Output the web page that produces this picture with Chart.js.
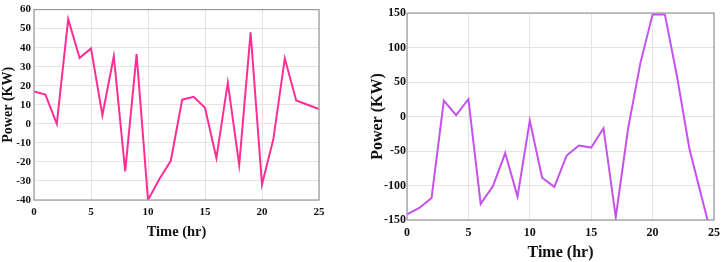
<!DOCTYPE html>
<html>
<head>
<meta charset="utf-8">
<script src="https://cdn.jsdelivr.net/npm/chart.js@4.4.0/dist/chart.umd.min.js"></script>
<style>
  html, body { margin: 0; padding: 0; background: #fff; }
  #wrap { position: relative; width: 726px; height: 262px; }
  .box { position: absolute; top: 0; width: 363px; height: 262px; }
</style>
</head>
<body>
<div id="wrap">
  <div class="box" style="left:0"><canvas id="leftChart"></canvas></div>
  <div class="box" style="left:363px"><canvas id="rightChart"></canvas></div>
</div>
<script>
var hours = [0,1,2,3,4,5,6,7,8,9,10,11,12,13,14,15,16,17,18,19,20,21,22,23,24,25];
var powerLeft = [17,15.4,0,55,34.6,39.6,4.6,35.5,-25,36.6,-40,-29,-19.4,12.7,14.2,8.5,-18,21.6,-21.6,48,-31.9,-7.9,34.4,12.3,10,7.7];
var powerRight = [-142,-132.5,-118,23,2,25,-126.7,-100.8,-53,-116,-6,-88.7,-102,-56.5,-42,-45,-17,-146,-18,77,148,148,57,-47,-117,-187];
var xTicks = [0,5,10,15,20,25];
var leftYTicks = [-40,-30,-20,-10,0,10,20,30,40,50,60];
var rightYTicks = [-150,-100,-50,0,50,100,150];

var serif = "'Liberation Serif', 'DejaVu Serif', serif";

// grey box round the plot area, like the matlab figure
var framePlugin = {
  id: 'frame',
  afterDraw: function(chart) {
    var a = chart.chartArea, c = chart.ctx;
    c.save();
    c.strokeStyle = '#9a9a9a';
    c.lineWidth = 1.2;
    c.strokeRect(a.left, a.top, a.right - a.left, a.bottom - a.top);
    c.restore();
  }
};

function makeChart(id, vals, color, yTicks, s) {
  var pts = hours.map(function(h, i) { return { x: h, y: vals[i] }; });
  return new Chart(document.getElementById(id), {
    type: 'line',
    data: {
      datasets: [{
        data: pts,
        borderColor: color,
        borderWidth: 2,
        pointRadius: 0,
        tension: 0,
        fill: false
      }]
    },
    options: {
      responsive: true,
      maintainAspectRatio: false,
      animation: false,
      plugins: { legend: { display: false }, tooltip: { enabled: false } },
      layout: { padding: { left: 0, right: s.padRight, top: s.padTop, bottom: s.padBottom } },
      scales: {
        x: {
          type: 'linear',
          min: 0, max: 25,
          afterBuildTicks: function(ax) { ax.ticks = xTicks.map(function(v) { return { value: v }; }); },
          afterFit: function(ax) { ax.height = s.xHeight; },
          grid: { color: '#e4e4e4', drawTicks: false },
          border: { display: false },
          ticks: { color: '#111', padding: 6, maxRotation: 0, font: { family: serif, weight: 'bold', size: s.tickSize } },
          title: { display: true, text: 'Time (hr)', color: '#111', padding: 0, font: { family: serif, weight: 'bold', size: s.titleSize } }
        },
        y: {
          min: yTicks[0], max: yTicks[yTicks.length - 1],
          afterBuildTicks: function(ax) { ax.ticks = yTicks.map(function(v) { return { value: v }; }); },
          afterFit: function(ax) { ax.width = s.yWidth; },
          grid: { color: '#e4e4e4', drawTicks: false },
          border: { display: false },
          ticks: { color: '#111', padding: s.yPad, font: { family: serif, weight: 'bold', size: s.tickSize } },
          title: { display: true, text: 'Power (KW)', color: '#111', padding: { top: s.yTitlePad, bottom: 0 }, font: { family: serif, weight: 'bold', size: s.yTitleSize } }
        }
      }
    },
    plugins: [framePlugin]
  });
}

makeChart('leftChart', powerLeft, '#ff2d96', leftYTicks,
  { padRight: 44, padTop: 6, padBottom: 21, xHeight: 41, yWidth: 34, yPad: 3, yTitlePad: 0, tickSize: 11, titleSize: 14.5, yTitleSize: 14 });
makeChart('rightChart', powerRight, '#c552ee', rightYTicks,
  { padRight: 8, padTop: 13, padBottom: 0, xHeight: 42, yWidth: 44, yPad: 1, yTitlePad: 5, tickSize: 12, titleSize: 16, yTitleSize: 16 });
</script>
</body>
</html>
